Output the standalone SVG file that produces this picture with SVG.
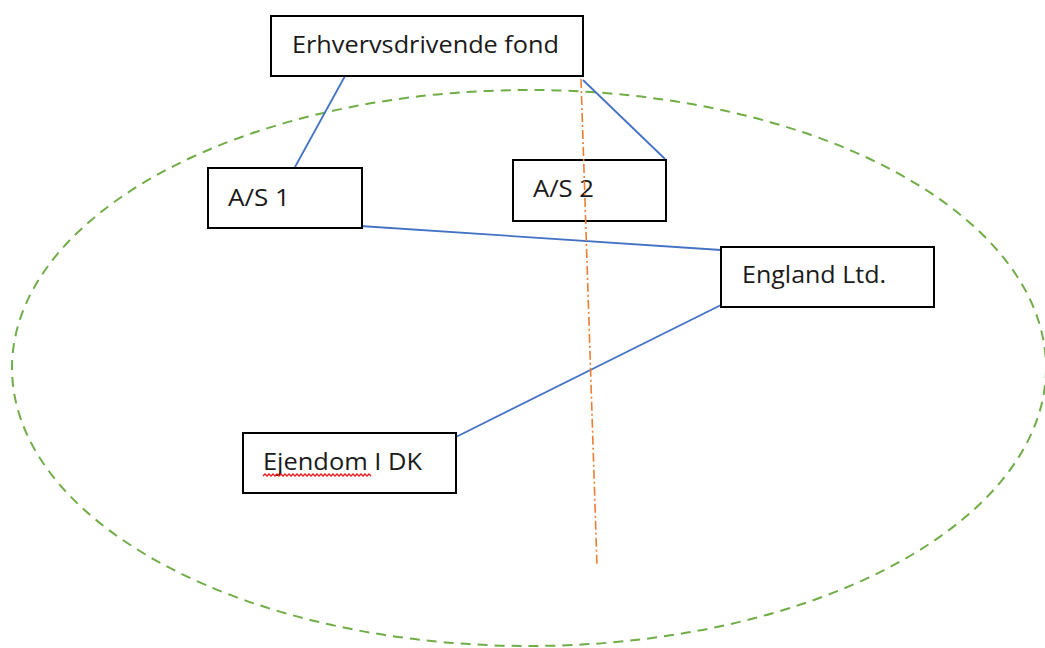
<svg xmlns="http://www.w3.org/2000/svg" width="1045" height="648" viewBox="0 0 1045 648">
<style>
.box{fill:#fff;stroke:#000;stroke-width:2}
.lbl{font-family:"Open Sans","Liberation Sans",sans-serif;font-size:24px;fill:#1a1a1a}
.conn{stroke:#4472C4;stroke-width:1.8;fill:none}
</style>
<rect width="1045" height="648" fill="#fff"/>
<ellipse id="boundary" cx="529" cy="368" rx="517" ry="278" fill="none" stroke="#70AD47" stroke-width="2" stroke-dasharray="10 7"/>
<g id="connectors">
<line class="conn" x1="345" y1="76" x2="295" y2="167"/>
<line class="conn" x1="583" y1="80" x2="665" y2="159"/>
<line class="conn" x1="360" y1="226" x2="721" y2="250"/>
<line class="conn" x1="721" y1="305" x2="456" y2="437"/>
</g>
<g id="fond">
<rect class="box" x="271" y="16" width="312" height="60"/>
<text class="lbl" x="292" y="53" textLength="267" lengthAdjust="spacingAndGlyphs">Erhvervsdrivende fond</text>
</g>
<g id="as1">
<rect class="box" x="208" y="168" width="154" height="60"/>
<text class="lbl" x="228" y="206" textLength="62" lengthAdjust="spacingAndGlyphs">A/S 1</text>
</g>
<g id="as2">
<rect class="box" x="513" y="160" width="153" height="61"/>
<text class="lbl" x="533" y="197" textLength="61" lengthAdjust="spacingAndGlyphs">A/S 2</text>
</g>
<g id="england">
<rect class="box" x="721" y="247" width="213" height="60"/>
<text class="lbl" x="742" y="283" textLength="144" lengthAdjust="spacingAndGlyphs">England Ltd.</text>
</g>
<g id="ejendom">
<rect class="box" x="243" y="433" width="213" height="60"/>
<text class="lbl" x="263" y="470" textLength="159" lengthAdjust="spacingAndGlyphs">Ejendom I DK</text>
<path d="M263 476 l2 -2 l2 2 l2 -2 l2 2 l2 -2 l2 2 l2 -2 l2 2 l2 -2 l2 2 l2 -2 l2 2 l2 -2 l2 2 l2 -2 l2 2 l2 -2 l2 2 l2 -2 l2 2 l2 -2 l2 2 l2 -2 l2 2 l2 -2 l2 2 l2 -2 l2 2 l2 -2 l2 2 l2 -2 l2 2 l2 -2 l2 2 l2 -2 l2 2 l2 -2 l2 2 l2 -2 l2 2 l2 -2 l2 2 l2 -2 l2 2 l2 -2 l2 2 l2 -2 l2 2 l2 -2 l2 2 l2 -2 l2 2 l2 -2 l2 2" fill="none" stroke="#E02020" stroke-width="1.4"/>
</g>
<line id="divider" x1="581" y1="79" x2="597" y2="566" stroke="#ED7D31" stroke-width="1.6" stroke-dasharray="9 3 2 3"/>
</svg>
